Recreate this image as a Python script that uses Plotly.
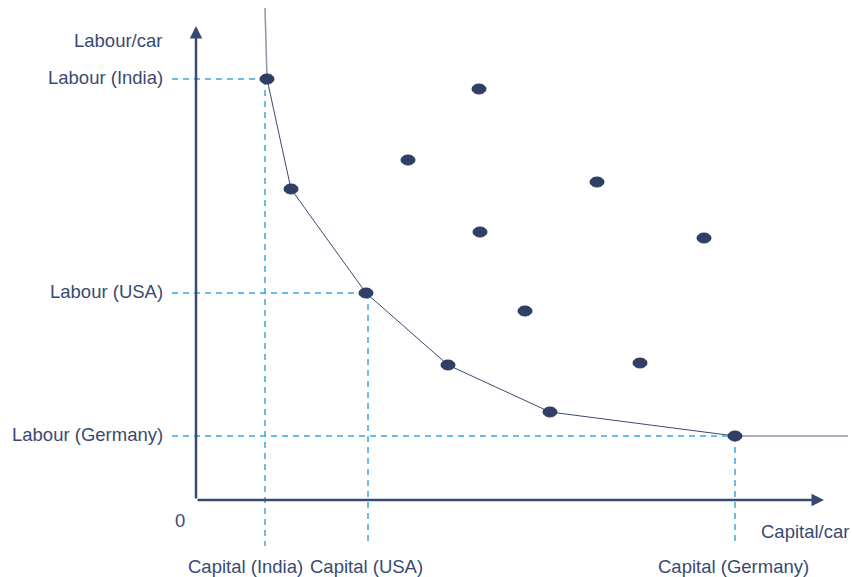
import plotly.graph_objects as go

# capital per car (x) and labour per car (y), origin at the axes corner
frontier_capital = [71, 95, 170, 252, 354, 539]
frontier_labour = [421, 311, 207, 135, 88, 64]

other_capital = [283, 212, 401, 284, 508, 329, 444]
other_labour = [411, 340, 318, 268, 262, 189, 137]

countries = ["India", "USA", "Germany"]
country_capital = [69, 172, 539]
country_labour = [421, 207, 64]

NAVY = "#394a72"
DOT = "#2f3f66"
BLUE = "#3aa8dc"
FONT = "Liberation Sans, Arial, sans-serif"

fig = go.Figure()

# frontier extensions (vertical above India, horizontal right of Germany)
fig.add_trace(go.Scatter(x=[frontier_capital[0] - 2, frontier_capital[0]],
                         y=[492, frontier_labour[0]], mode="lines",
                         line=dict(color="#8c96ab", width=1.5), hoverinfo="skip"))
fig.add_trace(go.Scatter(x=[frontier_capital[-1], 652],
                         y=[frontier_labour[-1], frontier_labour[-1]], mode="lines",
                         line=dict(color="#8c96ab", width=1.5), hoverinfo="skip"))
fig.add_trace(go.Scatter(x=frontier_capital, y=frontier_labour, mode="lines",
                         line=dict(color=NAVY, width=1), hoverinfo="skip"))

# dashed guide lines
for cap, lab in zip(country_capital, country_labour):
    fig.add_trace(go.Scatter(x=[-24, cap], y=[lab, lab], mode="lines",
                             line=dict(color=BLUE, width=1.5, dash="6px,5px"), hoverinfo="skip"))
    fig.add_trace(go.Scatter(x=[cap, cap], y=[lab, -46], mode="lines",
                             line=dict(color=BLUE, width=1.5, dash="6px,5px"), hoverinfo="skip"))

# axes with arrows
fig.add_annotation(x=0, y=474, ax=0, ay=0, xref="x", yref="y", axref="x", ayref="y",
                   showarrow=True, arrowhead=2, arrowsize=1, arrowwidth=2.5, arrowcolor=NAVY, text="")
fig.add_annotation(x=628, y=0, ax=0, ay=0, xref="x", yref="y", axref="x", ayref="y",
                   showarrow=True, arrowhead=2, arrowsize=1, arrowwidth=2.5, arrowcolor=NAVY, text="")

# ellipse dots
for cx, cy in zip(frontier_capital + other_capital, frontier_labour + other_labour):
    fig.add_shape(type="circle", xref="x", yref="y",
                  x0=cx - 7, x1=cx + 7, y0=cy - 5, y1=cy + 5,
                  fillcolor=DOT, line=dict(color="#25345a", width=1))

tf = dict(family=FONT, size=18.5, color=NAVY)
for name, lab in zip(countries, country_labour):
    fig.add_annotation(x=-31, y=lab + 2, text=f"Labour ({name})", showarrow=False,
                       xanchor="right", font=tf)
for name, cap in zip(countries, country_capital):
    fig.add_annotation(x=cap - (20 if name == "India" else 2), y=-66, text=f"Capital ({name})",
                       showarrow=False, xanchor="center", font=tf)
fig.add_annotation(x=-78, y=460, text="Labour/car", showarrow=False, font=tf)
fig.add_annotation(x=-16, y=-20, text="0", showarrow=False, font=tf)
fig.add_annotation(x=609, y=-31, text="Capital/car", showarrow=False, font=tf)

fig.update_layout(
    width=852, height=577, margin=dict(l=0, r=0, t=0, b=0),
    paper_bgcolor="white", plot_bgcolor="white", showlegend=False,
    xaxis=dict(range=[-196, 656], visible=False, fixedrange=True),
    yaxis=dict(range=[-77, 500], visible=False, fixedrange=True),
)

fig.write_html("out.html", config={"displayModeBar": False},
               post_script="document.body.style.margin='0';")
